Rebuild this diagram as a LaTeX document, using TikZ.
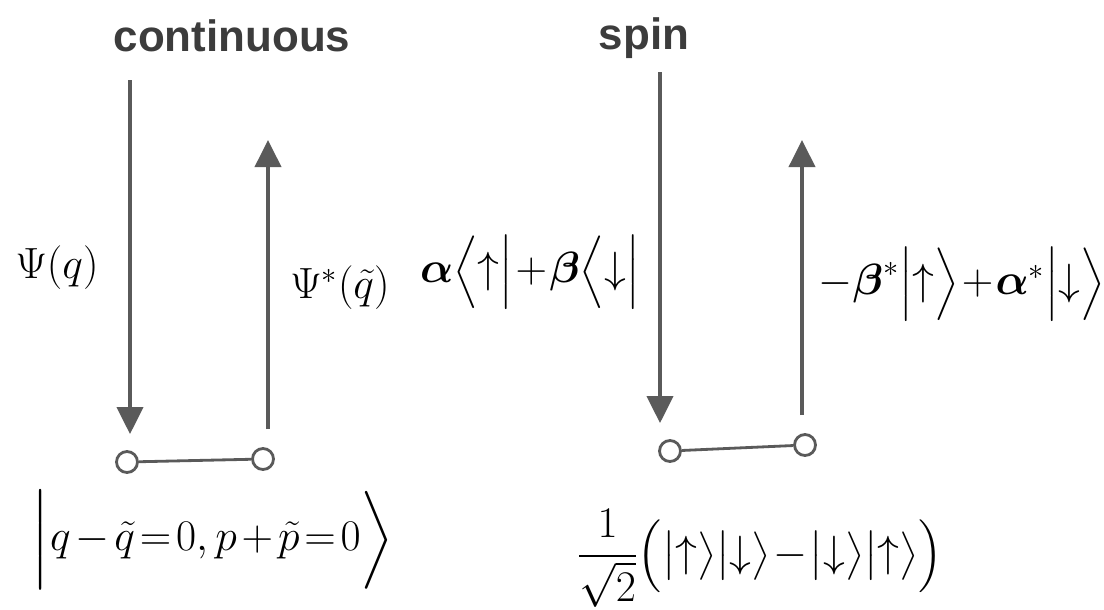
\documentclass[tikz,border=0pt]{standalone}
\usepackage{amsmath,amssymb}
\usepackage{fontspec}
\setsansfont{Liberation Sans}
\usepackage{tikz}
\usetikzlibrary{arrows.meta, positioning}

\definecolor{inkgray}{HTML}{5A5A5A}
\definecolor{headgray}{HTML}{3C3C3C}

\newcommand{\up}{\mathord{\uparrow}}
\newcommand{\dn}{\mathord{\downarrow}}

\begin{document}
\begin{tikzpicture}[
    x=0.02cm, y=-0.02cm,
    title/.style={font=\sffamily\bfseries\fontsize{25}{29}\selectfont, text=headgray},
    formula/.style={font=\fontsize{26}{30}\selectfont, inner sep=0pt},
    spinformula/.style={font=\fontsize{23}{27}\selectfont, inner sep=0pt},
    site/.style={circle, draw=inkgray, line width=1.6pt, fill=white, minimum size=0.42cm, inner sep=0pt},
    bond/.style={draw=inkgray, line width=1.6pt},
    arrow/.style={-{Triangle[length=0.54cm, width=0.52cm]}, draw=inkgray, line width=2.2pt}
]
\useasboundingbox (0,0) rectangle (1104,609);

% headings
\node[title] (cont) at (232,36) {continuous};
\node[title] (spin) at (644,38) {spin};

% continuous variables
\node[site] (cL1) at (127,462) {};
\node[site] (cL2) at (263,459) {};
\coordinate (inC) at (130,80);
\coordinate (outC) at (268,140);
\draw[bond] (cL1) -- (cL2);
\draw[arrow, shorten >=0.32cm] (inC) -- (inC |- cL1.north);
\draw[arrow, shorten <=0.36cm] (cL2.north -| outC) -- (outC);

\node[formula] (psiL) at (57,268) {$\Psi(q)$};
\node[formula] (psiR) at (340,288) {$\Psi^{*}(\tilde q)$};
\node[formula, font=\fontsize{31}{35}\selectfont] (ketC) at (213,540)
  {$\medmuskip=2mu\thickmuskip=2mu\Big|q-\tilde q=0,p+\tilde p=0\Big\rangle$};

% spin
\node[site] (cR1) at (670,451) {};
\node[site] (cR2) at (805,445) {};
\coordinate (inS) at (660,72);
\coordinate (outS) at (802,140);
\draw[bond] (cR1) -- (cR2);
\draw[arrow, shorten >=0.32cm] (inS) -- (inS |- cR1.north);
\draw[arrow, shorten <=0.36cm] (cR2.north -| outS) -- (outS);

\node[spinformula] (braS) at (530,272)
  {$\medmuskip=1mu\boldsymbol{\alpha}\Big\langle\up\Big|+\boldsymbol{\beta}\Big\langle\dn\Big|$};
\node[spinformula] (ketS) at (962,284)
  {$\medmuskip=1mu-\boldsymbol{\beta}^{*}\Big|\up\Big\rangle+\boldsymbol{\alpha}^{*}\Big|\dn\Big\rangle$};
\node[spinformula] (singlet) at (760,558)
  {$\medmuskip=1mu\dfrac{1}{\sqrt{2}}\Big(\big|\up\big\rangle\big|\dn\big\rangle-\big|\dn\big\rangle\big|\up\big\rangle\Big)$};
\end{tikzpicture}
\end{document}
